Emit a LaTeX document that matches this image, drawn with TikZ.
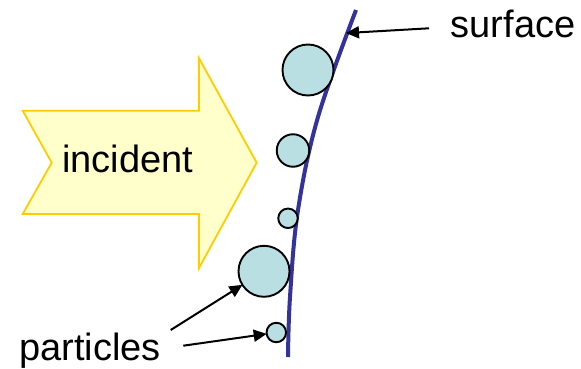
\documentclass[tikz,border=0pt]{standalone}
\usepackage{fontspec}
\setmainfont{Liberation Sans}
\usetikzlibrary{arrows.meta}
\definecolor{arrowfill}{HTML}{FFFFCC}
\definecolor{arrowline}{HTML}{FFCC00}
\definecolor{partfill}{HTML}{B9DFE2}
\definecolor{surfblue}{HTML}{333399}
\tikzset{
  label/.style={font=\fontsize{38}{40}\selectfont, inner sep=0pt, anchor=base},
  particle/.style={circle, draw=black, line width=1.9pt, fill=partfill, inner sep=0pt},
  pointer/.style={draw=black, line width=2pt, -{Triangle[length=13pt,width=12pt]}, shorten >=-1pt},
}
\begin{document}
\begin{tikzpicture}[x=1pt,y=-1pt]
\useasboundingbox (0,0) rectangle (581,369);
% incident arrow
\draw[fill=arrowfill, draw=arrowline, line width=1.8pt, line join=miter]
  (22.7,110.7) -- (199,110.7) -- (199,58.3) -- (256.7,162.7) -- (199,268)
  -- (199,214) -- (22.7,214) -- (51.7,162.7) -- cycle;
\node[label] (inc) at (127.5,172.7) {incident};
% surface
\draw[surfblue, line width=4pt] plot[smooth, tension=0.6] coordinates
  {(356,10) (318,117) (298,210) (290,297) (288,357)};
\coordinate (sfpt) at (347,33);
% particles
\node[particle, minimum size=51pt] (c1) at (308,70) {};
\node[particle, minimum size=32.5pt] (c2) at (293,150.5) {};
\node[particle, minimum size=19.5pt] (c3) at (288,218.3) {};
\node[particle, minimum size=51pt] (c4) at (264,271.3) {};
\node[particle, minimum size=19.5pt] (c5) at (276.3,332.5) {};
% labels
\node[label] (surf) at (513,38) {surface};
\node[label] (part) at (90,360) {particles};
\coordinate (sfs) at (429,28.3);
\coordinate (ps1) at (170.7,330);
\coordinate (ps2) at (183.3,345.7);
\draw[pointer] (sfs) -- (sfpt);
\draw[pointer] (ps1) -- (c4);
\draw[pointer] (ps2) -- (c5);
\end{tikzpicture}
\end{document}
